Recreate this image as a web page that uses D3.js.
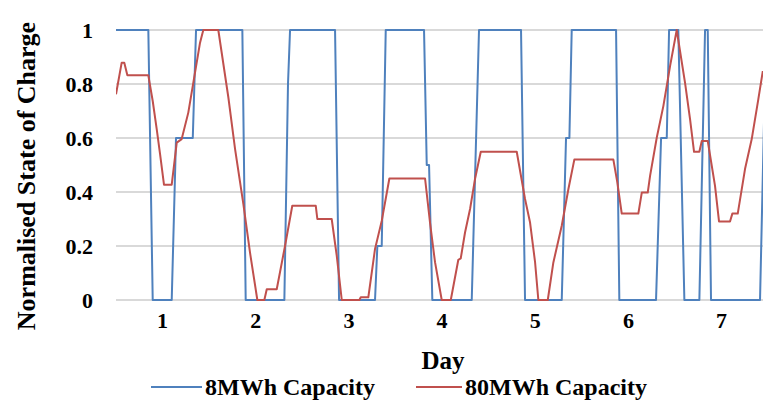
<!DOCTYPE html>
<html>
<head>
<meta charset="utf-8">
<script src="https://cdn.jsdelivr.net/npm/d3@7"></script>
<style>
  html, body { margin: 0; padding: 0; background: #fff; }
  svg { display: block; }
  text { font-family: "Liberation Serif", "Times New Roman", serif; font-weight: bold; fill: #000; }
</style>
</head>
<body>
<svg id="chart" width="763" height="401"></svg>
<script>
// ---- Data ----
const dayTicks = [1, 2, 3, 4, 5, 6, 7];
const socTicks = [0, 0.2, 0.4, 0.6, 0.8, 1];
const socTickLabels = ["0", "0.2", "0.4", "0.6", "0.8", "1"];

const seriesNames = ["8MWh Capacity", "80MWh Capacity"];
const seriesColors = ["#4f81bd", "#c0504d"];

// 8MWh capacity: day, normalised SOC
const days8 = [0.50, 0.853, 0.900, 1.104, 1.150, 1.330, 1.365, 1.862, 1.898, 2.313, 2.352, 2.374,
  2.857, 2.900, 3.286, 3.311, 3.358, 3.401, 3.812, 3.841, 3.866, 3.901, 4.324, 4.402, 4.853, 4.896,
  5.290, 5.336, 5.372, 5.397, 5.873, 5.908, 6.302, 6.356, 6.417, 6.442, 6.541, 6.606, 6.767, 6.828,
  6.857, 6.892, 7.418, 7.483];
const soc8 = [1, 1, 0, 0, 0.6, 0.6, 1, 1, 0, 0, 0.8, 1,
  1, 0, 0, 0.2, 0.2, 1, 1, 0.5, 0.5, 0, 0, 1, 1, 0,
  0, 0.6, 0.6, 1, 1, 0, 0, 0.6, 0.6, 1, 1, 0, 0, 1,
  1, 0, 0, 1];

// 80MWh capacity: day, normalised SOC
const days80 = [0.506, 0.567, 0.595, 0.628, 0.853, 0.900, 0.943, 0.979, 1.021, 1.104, 1.158, 1.211,
  1.282, 1.354, 1.408, 1.443, 1.604, 1.712, 1.784, 1.873, 1.944, 2.023, 2.098, 2.124, 2.231, 2.320,
  2.398, 2.650, 2.667, 2.821, 2.875, 2.929, 3.118, 3.133, 3.214, 3.286, 3.358, 3.440, 3.823, 3.876,
  3.930, 4.002, 4.099, 4.180, 4.206, 4.252, 4.306, 4.359, 4.421, 4.807, 4.896, 4.950, 5.004, 5.039,
  5.140, 5.200, 5.290, 5.361, 5.425, 5.844, 5.887, 5.934, 6.112, 6.149, 6.213, 6.238, 6.310, 6.381,
  6.453, 6.524, 6.613, 6.667, 6.710, 6.767, 6.793, 6.857, 6.935, 6.978, 7.096, 7.121, 7.179, 7.257,
  7.329, 7.400, 7.448];
const soc80 = [0.762, 0.879, 0.879, 0.832, 0.832, 0.737, 0.633, 0.540, 0.427, 0.427, 0.583, 0.596,
  0.694, 0.842, 0.953, 1, 1, 0.75, 0.559, 0.355, 0.176, 0, 0, 0.04, 0.04, 0.2,
  0.349, 0.349, 0.3, 0.3, 0.164, 0, 0, 0.01, 0.01, 0.189, 0.293, 0.45, 0.45, 0.287,
  0.14, 0, 0, 0.149, 0.154, 0.25, 0.337, 0.448, 0.549, 0.549, 0.374, 0.287, 0.139, 0,
  0, 0.139, 0.275, 0.41, 0.52, 0.52, 0.435, 0.32, 0.32, 0.398, 0.398, 0.46, 0.602, 0.719,
  0.867, 1, 0.805, 0.67, 0.549, 0.549, 0.589, 0.589, 0.423, 0.291, 0.291, 0.32, 0.32, 0.485,
  0.596, 0.744, 0.848];

// ---- Layout ----
const svg = d3.select("#chart");
const plot = { left: 116, right: 763, top: 30, bottom: 300 };

const x = d3.scaleLinear().domain([0.506, 7.45]).range([plot.left, plot.right]);
const y = d3.scaleLinear().domain([0, 1]).range([plot.bottom, plot.top]);

// gridlines
svg.append("g")
  .selectAll("line")
  .data(socTicks)
  .join("line")
  .attr("x1", plot.left).attr("x2", plot.right)
  .attr("y1", d => y(d)).attr("y2", d => y(d))
  .attr("stroke", "#d9d9d9").attr("stroke-width", 2);

// clip
svg.append("clipPath").attr("id", "clip")
  .append("rect").attr("x", plot.left).attr("y", plot.top - 10)
  .attr("width", plot.right - plot.left).attr("height", plot.bottom - plot.top + 20);

const line = d3.line().x(d => x(d[0])).y(d => y(d[1]));
const s8 = days8.map((d, i) => [d, soc8[i]]);
const s80 = days80.map((d, i) => [d, soc80[i]]);

const lines = svg.append("g").attr("clip-path", "url(#clip)");
lines.append("path").datum(s8).attr("d", line)
  .attr("fill", "none").attr("stroke", seriesColors[0]).attr("stroke-width", 2)
  .attr("stroke-linejoin", "round");
lines.append("path").datum(s80).attr("d", line)
  .attr("fill", "none").attr("stroke", seriesColors[1]).attr("stroke-width", 2)
  .attr("stroke-linejoin", "round");

// axes
const xAxis = svg.append("g").attr("transform", `translate(0,${plot.bottom})`)
  .call(d3.axisBottom(x).tickValues(dayTicks).tickFormat(d3.format("d")).tickSize(0).tickPadding(12));
xAxis.select(".domain").remove();
xAxis.selectAll("text").style("font-size", "22px").style("font-family", "Liberation Serif").style("font-weight", "bold");

const yAxis = svg.append("g").attr("transform", `translate(${plot.left},0)`)
  .call(d3.axisLeft(y).tickValues(socTicks).tickFormat((d, i) => socTickLabels[i]).tickSize(0).tickPadding(23));
yAxis.select(".domain").remove();
yAxis.selectAll("text").style("font-size", "22px").style("font-family", "Liberation Serif").style("font-weight", "bold");

// axis titles
svg.append("text").attr("x", 443).attr("y", 369).attr("text-anchor", "middle")
  .style("font-size", "25px").text("Day");
svg.append("text").attr("transform", "translate(35,176) rotate(-90)").attr("text-anchor", "middle")
  .style("font-size", "26px").text("Normalised State of Charge");

// legend
const legendItems = [
  { name: seriesNames[0], color: seriesColors[0], x1: 151, x2: 202 },
  { name: seriesNames[1], color: seriesColors[1], x1: 416, x2: 462 }
];
const lg = svg.append("g");
legendItems.forEach(it => {
  lg.append("line").attr("x1", it.x1).attr("x2", it.x2).attr("y1", 387).attr("y2", 387)
    .attr("stroke", it.color).attr("stroke-width", 2);
  lg.append("text").attr("x", it.x2 + 3).attr("y", 395).style("font-size", "24px").text(it.name);
});
</script>
</body>
</html>
